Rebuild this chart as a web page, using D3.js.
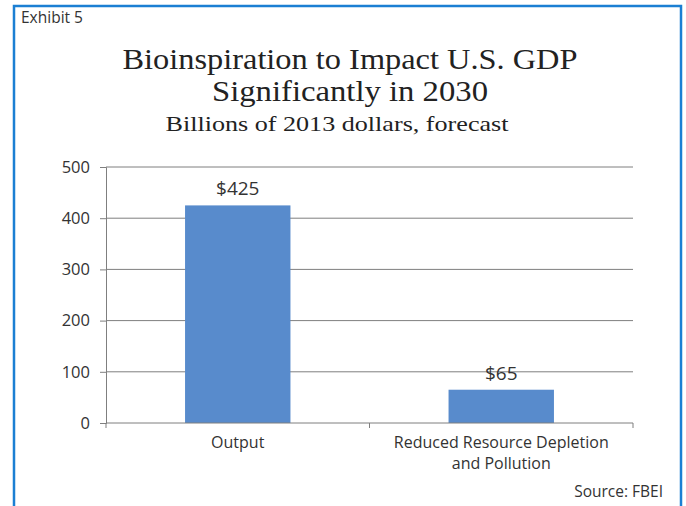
<!DOCTYPE html>
<html><head><meta charset="utf-8">
<script src="https://cdn.jsdelivr.net/npm/d3@7"></script>
<style>body{margin:0;background:#fff}svg{display:block}</style>
</head><body>
<script>
const categories = ["Output", "Reduced Resource Depletion|and Pollution"];
const values = [425, 65];
const valueLabels = ["$425", "$65"];
const yTicks = [0, 100, 200, 300, 400, 500];

const W = 686, H = 506;
const svg = d3.select("body").append("svg").attr("width", W).attr("height", H);
const sans = "'Open Sans', Lato, sans-serif";
const serif = "'Liberation Serif', 'DejaVu Serif', serif";

// frame
svg.append("rect").attr("x", 14).attr("y", 6).attr("width", 667).attr("height", 520)
  .attr("fill", "none").attr("stroke", "#1b7fd3").attr("stroke-width", 2.5);

svg.append("text").attr("x", 21).attr("y", 23).text("Exhibit 5")
  .attr("font-family", sans).attr("font-size", 15.5).attr("fill", "#333");

function title(txt, xc, yb, size, len) {
  svg.append("text").attr("x", xc).attr("y", yb).attr("text-anchor", "middle")
    .attr("font-family", serif).attr("font-size", size).attr("fill", "#222")
    .attr("textLength", len).attr("lengthAdjust", "spacingAndGlyphs").text(txt);
}
title("Bioinspiration to Impact U.S. GDP", 350, 69, 30, 455);
title("Significantly in 2030", 350, 101, 30, 276);
title("Billions of 2013 dollars, forecast", 337, 131, 21, 343);

const x0 = 106, x1 = 633, yTop = 167, yBot = 423;
const x = d3.scaleBand().domain(categories).range([x0, x1]).paddingInner(0.6).paddingOuter(0.3);
const y = d3.scaleLinear().domain([0, 500]).range([yBot, yTop]);

// gridlines
svg.append("g").selectAll("line").data(yTicks.filter(d => d > 0)).join("line")
  .attr("x1", x0).attr("x2", x1).attr("y1", d => y(d)).attr("y2", d => y(d))
  .attr("stroke", "#7f7f7f").attr("stroke-width", 1);

// y axis
const yAxis = svg.append("g").attr("transform", `translate(${x0},0)`)
  .call(d3.axisLeft(y).tickValues(yTicks).tickSize(6).tickPadding(10));
yAxis.select(".domain").attr("stroke", "#7f7f7f");
yAxis.selectAll(".tick line").attr("stroke", "#7f7f7f");
yAxis.selectAll("text").attr("font-family", sans).attr("font-size", 16.5).attr("fill", "#333");

// bars
svg.append("g").selectAll("rect").data(values).join("rect")
  .attr("x", (d, i) => x(categories[i])).attr("width", x.bandwidth())
  .attr("y", d => y(d)).attr("height", d => yBot - y(d))
  .attr("fill", "#588bcc");

// value labels
svg.append("g").selectAll("text").data(values).join("text")
  .attr("x", (d, i) => x(categories[i]) + x.bandwidth() / 2)
  .attr("y", d => y(d) - 10).attr("text-anchor", "middle")
  .attr("font-family", sans).attr("font-size", 19).attr("fill", "#333")
  .text((d, i) => valueLabels[i]);

// x axis
svg.append("line").attr("x1", x0).attr("x2", x1).attr("y1", yBot).attr("y2", yBot)
  .attr("stroke", "#7f7f7f");
const bounds = [x0, x0 + (x1 - x0) / 2, x1];
svg.append("g").selectAll("line").data(bounds).join("line")
  .attr("x1", d => d).attr("x2", d => d).attr("y1", yBot).attr("y2", yBot + 5)
  .attr("stroke", "#7f7f7f");

const catG = svg.append("g");
categories.forEach(d => {
  const parts = d.split("|");
  const cxp = x(d) + x.bandwidth() / 2;
  parts.forEach((p, i) => {
    catG.append("text").attr("x", cxp).attr("y", 448 + i * 21)
      .attr("text-anchor", "middle").attr("font-family", sans).attr("font-size", 16)
      .attr("fill", "#333").text(p);
  });
});

svg.append("text").attr("x", 663).attr("y", 497).attr("text-anchor", "end")
  .attr("font-family", sans).attr("font-size", 15.5).attr("fill", "#333").text("Source: FBEI");
</script>
</body></html>
